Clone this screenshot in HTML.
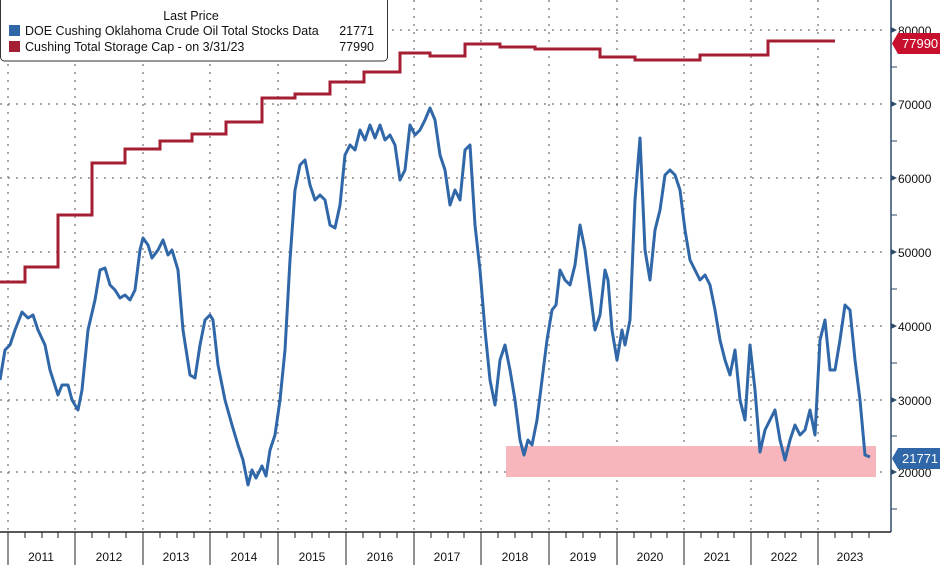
<!DOCTYPE html><html><head><style>body{margin:0;background:#fff;}svg{display:block;font-family:"Liberation Sans",sans-serif;}</style></head><body>
<svg width="940" height="565" viewBox="0 0 940 565">
<rect width="940" height="565" fill="#fff"/>
<g stroke="#555" stroke-dasharray="2,6" stroke-width="1">
<line x1="0" y1="30" x2="888" y2="30"/><line x1="0" y1="104" x2="888" y2="104"/><line x1="0" y1="178" x2="888" y2="178"/><line x1="0" y1="252" x2="888" y2="252"/><line x1="0" y1="326" x2="888" y2="326"/><line x1="0" y1="400" x2="888" y2="400"/><line x1="0" y1="472" x2="888" y2="472"/>
<line x1="8" y1="0" x2="8" y2="532"/><line x1="75" y1="0" x2="75" y2="532"/><line x1="143" y1="0" x2="143" y2="532"/><line x1="210" y1="0" x2="210" y2="532"/><line x1="278" y1="0" x2="278" y2="532"/><line x1="346" y1="0" x2="346" y2="532"/><line x1="414" y1="0" x2="414" y2="532"/><line x1="481" y1="0" x2="481" y2="532"/><line x1="549" y1="0" x2="549" y2="532"/><line x1="617" y1="0" x2="617" y2="532"/><line x1="684" y1="0" x2="684" y2="532"/><line x1="751" y1="0" x2="751" y2="532"/><line x1="818" y1="0" x2="818" y2="532"/>
</g>
<rect x="506" y="446" width="370" height="31" fill="#f7b6bb"/>
<polyline fill="none" stroke="#a51f33" stroke-width="3" points="0,282 25,282 25,267 58,267 58,215 92,215 92,163 125,163 125,149 160,149 160,141 192,141 192,134 226,134 226,122 262,122 262,98 295,98 295,94 330,94 330,82 364,82 364,72 400,72 400,53 430,53 430,56 465,56 465,44 500,44 500,47 535,47 535,49 600,49 600,57 635,57 635,60 700,60 700,55 768,55 768,41 835,41"/>
<polyline fill="none" stroke="#2f67a8" stroke-width="3" stroke-linejoin="round" points="0,380 5,350 10,345 15,330 22,312 28,318 33,315 38,330 45,345 50,370 58,395 62,385 68,385 72,400 78,410 82,390 88,330 95,300 100,270 105,268 110,285 115,290 120,298 125,295 130,300 135,290 140,250 143,238 148,245 152,258 158,250 163,240 168,255 172,250 178,270 183,330 190,375 195,378 200,345 205,320 210,315 213,320 218,365 225,400 232,425 238,445 243,460 248,485 252,470 256,478 262,466 266,476 270,450 275,435 280,400 285,350 290,260 295,190 300,165 305,160 310,185 315,200 320,195 325,200 330,225 335,228 340,205 345,155 350,145 355,150 360,130 365,140 370,125 375,138 380,125 385,140 390,135 395,145 400,180 405,170 410,125 415,135 420,130 425,120 430,108 435,120 440,155 445,170 450,205 455,190 460,200 465,150 470,145 475,225 480,270 485,330 490,380 495,405 500,360 505,345 510,370 515,400 520,440 524,455 528,440 532,445 537,420 542,380 547,340 552,310 556,305 560,270 565,280 570,285 575,265 580,225 585,250 590,290 595,330 600,315 605,270 608,280 612,330 617,360 622,330 625,345 630,320 635,200 640,138 645,250 650,280 655,230 660,210 665,175 670,170 675,175 680,190 685,230 690,260 695,270 700,280 705,275 710,285 715,310 720,340 725,360 730,375 735,350 740,400 745,420 750,345 755,390 760,452 765,430 770,420 775,410 780,440 785,460 790,440 795,425 800,435 805,430 810,410 815,435 820,340 825,320 830,370 835,370 840,340 845,305 850,310 855,360 860,400 865,455 870,457"/>
<line x1="891" y1="0" x2="891" y2="532" stroke="#2b4a6a" stroke-width="1.5"/>
<line x1="0" y1="532" x2="891" y2="532" stroke="#222" stroke-width="1.5"/>
<g stroke="#2b4a6a" stroke-width="1"><line x1="891" y1="67" x2="897" y2="67"/><line x1="891" y1="141" x2="897" y2="141"/><line x1="891" y1="215" x2="897" y2="215"/><line x1="891" y1="289" x2="897" y2="289"/><line x1="891" y1="363" x2="897" y2="363"/><line x1="891" y1="436" x2="897" y2="436"/><line x1="891" y1="509" x2="897" y2="509"/></g>
<g stroke="#222" stroke-width="1"><line x1="8" y1="532" x2="8" y2="565"/><line x1="75" y1="532" x2="75" y2="565"/><line x1="143" y1="532" x2="143" y2="565"/><line x1="210" y1="532" x2="210" y2="565"/><line x1="278" y1="532" x2="278" y2="565"/><line x1="346" y1="532" x2="346" y2="565"/><line x1="414" y1="532" x2="414" y2="565"/><line x1="481" y1="532" x2="481" y2="565"/><line x1="549" y1="532" x2="549" y2="565"/><line x1="617" y1="532" x2="617" y2="565"/><line x1="684" y1="532" x2="684" y2="565"/><line x1="751" y1="532" x2="751" y2="565"/><line x1="818" y1="532" x2="818" y2="565"/></g>
<g stroke="#222" stroke-width="1">
<line x1="25" y1="532" x2="25" y2="538"/><line x1="42" y1="532" x2="42" y2="538"/><line x1="58" y1="532" x2="58" y2="538"/>
<line x1="92" y1="532" x2="92" y2="538"/><line x1="109" y1="532" x2="109" y2="538"/><line x1="126" y1="532" x2="126" y2="538"/>
<line x1="160" y1="532" x2="160" y2="538"/><line x1="177" y1="532" x2="177" y2="538"/><line x1="194" y1="532" x2="194" y2="538"/>
<line x1="227" y1="532" x2="227" y2="538"/><line x1="244" y1="532" x2="244" y2="538"/><line x1="261" y1="532" x2="261" y2="538"/>
<line x1="295" y1="532" x2="295" y2="538"/><line x1="312" y1="532" x2="312" y2="538"/><line x1="329" y1="532" x2="329" y2="538"/>
<line x1="363" y1="532" x2="363" y2="538"/><line x1="380" y1="532" x2="380" y2="538"/><line x1="397" y1="532" x2="397" y2="538"/>
<line x1="431" y1="532" x2="431" y2="538"/><line x1="448" y1="532" x2="448" y2="538"/><line x1="464" y1="532" x2="464" y2="538"/>
<line x1="498" y1="532" x2="498" y2="538"/><line x1="515" y1="532" x2="515" y2="538"/><line x1="532" y1="532" x2="532" y2="538"/>
<line x1="566" y1="532" x2="566" y2="538"/><line x1="583" y1="532" x2="583" y2="538"/><line x1="600" y1="532" x2="600" y2="538"/>
<line x1="634" y1="532" x2="634" y2="538"/><line x1="651" y1="532" x2="651" y2="538"/><line x1="667" y1="532" x2="667" y2="538"/>
<line x1="701" y1="532" x2="701" y2="538"/><line x1="718" y1="532" x2="718" y2="538"/><line x1="734" y1="532" x2="734" y2="538"/>
<line x1="768" y1="532" x2="768" y2="538"/><line x1="785" y1="532" x2="785" y2="538"/><line x1="801" y1="532" x2="801" y2="538"/>
<line x1="835" y1="532" x2="835" y2="538"/><line x1="852" y1="532" x2="852" y2="538"/><line x1="869" y1="532" x2="869" y2="538"/>
</g>
<g fill="#2b4a6a"><path d="M891,27 l6,3 l-6,3z"/><path d="M891,101 l6,3 l-6,3z"/><path d="M891,175 l6,3 l-6,3z"/><path d="M891,249 l6,3 l-6,3z"/><path d="M891,323 l6,3 l-6,3z"/><path d="M891,397 l6,3 l-6,3z"/><path d="M891,469 l6,3 l-6,3z"/></g>
<g font-size="12" fill="#111"><text x="898" y="35">80000</text><text x="898" y="109">70000</text><text x="898" y="183">60000</text><text x="898" y="257">50000</text><text x="898" y="331">40000</text><text x="898" y="405">30000</text><text x="898" y="477">20000</text></g>
<g font-size="12" fill="#111" text-anchor="middle"><text x="41" y="561">2011</text><text x="109" y="561">2012</text><text x="176" y="561">2013</text><text x="244" y="561">2014</text><text x="312" y="561">2015</text><text x="380" y="561">2016</text><text x="447" y="561">2017</text><text x="515" y="561">2018</text><text x="583" y="561">2019</text><text x="650" y="561">2020</text><text x="717" y="561">2021</text><text x="784" y="561">2022</text><text x="850" y="561">2023</text></g>
<path d="M898,33 L940,33 L940,54 L898,54 L892,43.5z" fill="#c8102e"/><text x="902" y="48" font-size="13" fill="#fff">77990</text>
<path d="M898,448 L940,448 L940,469 L898,469 L892,458.5z" fill="#2f67a8"/><text x="902" y="463" font-size="13" fill="#fff">21771</text>
<rect x="0.5" y="-5" width="387" height="66" rx="4" fill="#fff" stroke="#333"/>
<text x="191" y="20" font-size="12.5" fill="#111" text-anchor="middle">Last Price</text>
<rect x="9" y="25" width="11" height="11" fill="#2f67a8"/><rect x="9" y="41" width="11" height="11" fill="#a51f33"/>
<text x="25" y="35" font-size="12.5" fill="#111">DOE Cushing Oklahoma Crude Oil Total Stocks Data</text><text x="374" y="35" font-size="12.5" fill="#111" text-anchor="end">21771</text>
<text x="25" y="51" font-size="12.5" fill="#111">Cushing Total Storage Cap -  on 3/31/23</text><text x="374" y="51" font-size="12.5" fill="#111" text-anchor="end">77990</text>
</svg></body></html>
